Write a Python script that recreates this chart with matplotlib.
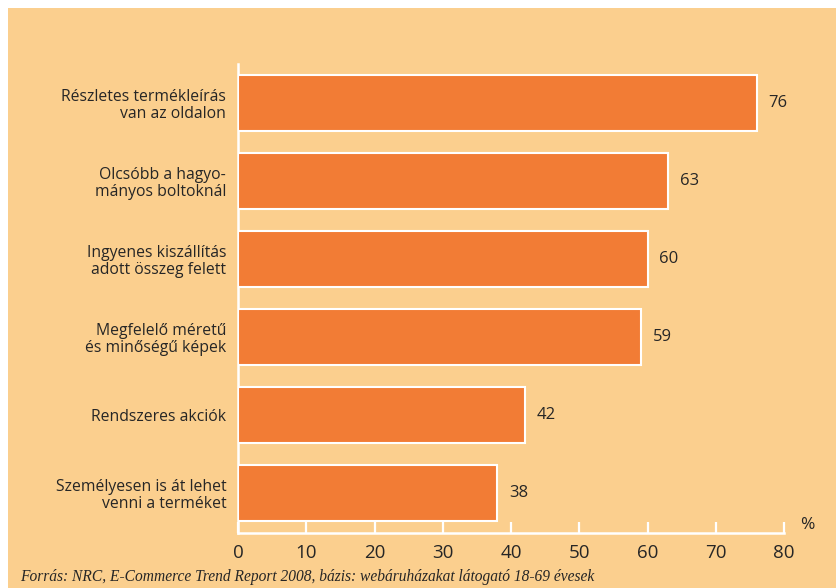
import matplotlib
matplotlib.use("Agg")
import matplotlib.pyplot as plt
from matplotlib.patches import Rectangle

# Survey results: reasons for buying online (percent of respondents)
categories = [
    "Részletes termékleírás\nvan az oldalon",
    "Olcsóbb a hagyo-\nmányos boltoknál",
    "Ingyenes kiszállítás\nadott összeg felett",
    "Megfelelő méretű\nés minőségű képek",
    "Rendszeres akciók",
    "Személyesen is át lehet\nvenni a terméket",
]
values = [76, 63, 60, 59, 42, 38]
xticks = [0, 10, 20, 30, 40, 50, 60, 70, 80]
source_note = "Forrás: NRC, E-Commerce Trend Report 2008, bázis: webáruházakat látogató 18-69 évesek"

BG = "#FBCF8E"
BAR = "#F27C35"
TXT = "#262626"
SANS = ["Open Sans", "DejaVu Sans"]

fig = plt.figure(figsize=(8.37, 5.88), dpi=100)
fig.patch.set_facecolor("white")
fig.patches.append(Rectangle((8 / 837, 0), 1, (588 - 8) / 588,
                             transform=fig.transFigure, facecolor=BG,
                             edgecolor="none", zorder=-10))

ax = fig.add_axes([238 / 837, (588 - 532.7) / 588,
                   (784 - 238) / 837, (532.7 - 64.5) / 588])
ax.set_facecolor("none")

n = len(categories)
ypos = [n - 1 - i for i in range(n)]
bars = ax.barh(ypos, values, height=0.71, color=BAR,
               edgecolor="white", linewidth=1.5, zorder=3)

for y, v in zip(ypos, values):
    ax.annotate(f"{v}", xy=(v, y), xytext=(8.5, 0), textcoords="offset points",
                ha="left", va="center", fontsize=12, color=TXT, family=SANS)

ax.set_xlim(0, 80)
ax.set_ylim(-0.51, n - 1 + 0.494)
ax.set_xticks(xticks)
ax.set_xticklabels([str(t) for t in xticks], fontsize=13.5, color=TXT,
                   family=SANS)
ax.set_yticks(ypos)
ax.set_yticklabels(categories, fontsize=11.3, color=TXT, family=SANS,
                   linespacing=1.12)
for lab in ax.get_yticklabels():
    lab.set_multialignment("right")

ax.tick_params(axis="x", direction="in", length=8, width=1.6,
               color="white", pad=8)
ax.tick_params(axis="y", length=0, pad=8.5)

for side in ("top", "right"):
    ax.spines[side].set_visible(False)
for side in ("left", "bottom"):
    ax.spines[side].set_color("white")
    ax.spines[side].set_linewidth(1.8)

ax.text(1.03, 0.0, "%", transform=ax.transAxes, ha="left", va="bottom",
        fontsize=12.5, color=TXT, family=SANS)

fig.text(20 / 837, 1 - 577 / 588, source_note, ha="left", va="center",
         fontsize=11.2, style="italic", color=TXT,
         family=["Liberation Serif", "DejaVu Serif"])

fig.savefig("out.png", dpi=100)
